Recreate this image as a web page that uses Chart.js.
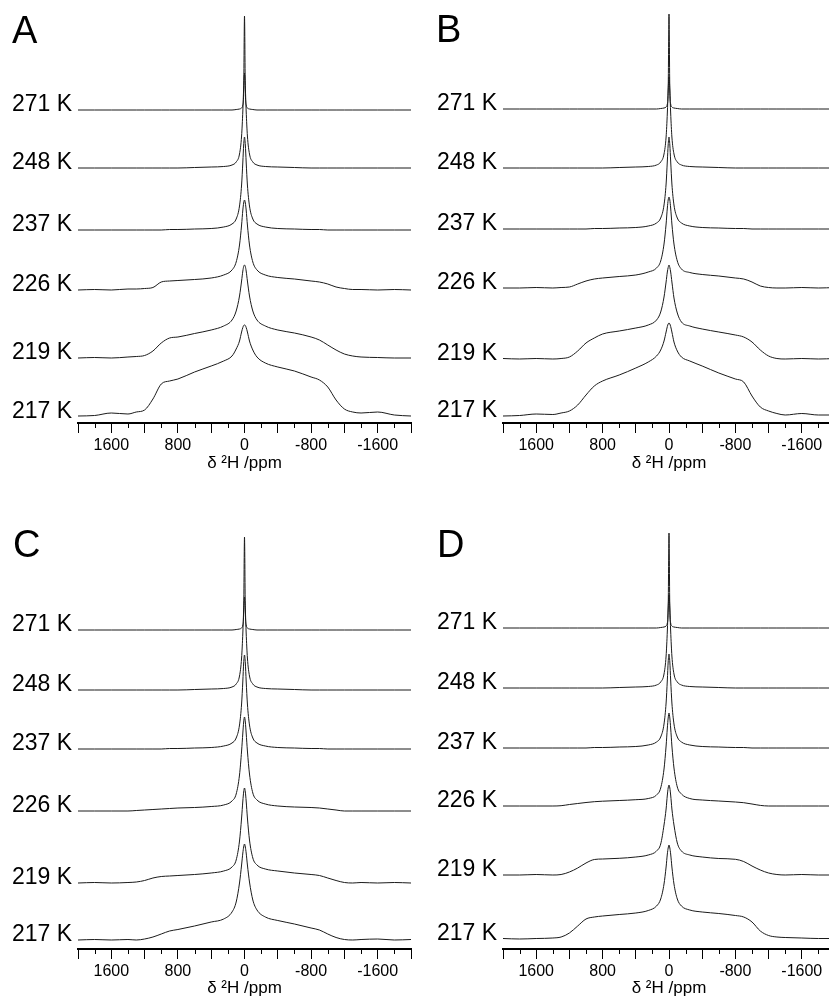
<!DOCTYPE html>
<html>
<head>
<meta charset="utf-8">
<script src="https://cdn.jsdelivr.net/npm/chart.js@4.4.0/dist/chart.umd.min.js"></script>
<style>
html, body { margin: 0; padding: 0; background: #fff; overflow: hidden; }
#wrap { position: relative; width: 829px; height: 1000px; overflow: hidden; }
#wrap canvas { position: absolute; }
</style>
</head>
<body>
<div id="wrap"></div>
<script>
var temps = [271, 248, 237, 226, 219, 217];
var ppm = [2000, 1800, 1600, 1400, 1300, 1200, 1100, 1000, 900, 800, 600, 400, 250, 150, 100, 60, 35, 20, 10, 0,
           -10, -20, -35, -60, -100, -150, -250, -400, -600, -800, -900, -1000, -1100, -1200, -1300, -1400, -1600, -1800, -2000];
var tickLabels = [1600, 800, 0, -800, -1600];
var letters = ['A', 'B', 'C', 'D'];
var axisTitle = 'δ ²H /ppm';

//Panel A spectra (intensity above each baseline).
var a271 = [0,0,0,0,0,0,0,0,0,0,0,0,0,0, 0.5,1,2,5,18,94,18,5,2,1,0.5, 0,0,0,0,0,0,0,0,0,0,0,0,0,0];
var a248 = [0,0,0,0,0,0,0,0,0,0, 0.5,1,1.5,3,6,14,32,57,80,95,80,57,32,14,6,3,1.5,1,0.5, 0,0,0,0,0,0,0,0,0,0];
var a237 = [0,0,0,0,0,0,0,0, 0.5,0.5,1,1.5,3,6,11,24,45,68,85,93,85,68,45,24,11,6,3,1.5,1,0.5,0.5, 0,0,0,0,0,0,0,0];
var a226 = [0,0.5,0,1,1,1.5,2.5,8,9,9.5, 10.5,12,15,20,28,45,65,80,87,90, 87,80,65,45,28,20,15,12.5,11,9, 8,6,3,1.5,0.5,0.5,0,0.5,0];
var a219 = [0,0.5,0,1,1.5,2.5,7,15,20,21, 24.5,28,32,38,47,62,77,87,91.5,93, 91.5,87,77,62,47,38,32,28,25,21, 18,13,8,4,2,1,0.5,0,0];
var a217 = [1,1.5,4,3,5,7,18,33,36,38, 45,51,56,61,68,76,85,89.5,91.5,92, 91.5,89.5,85,76,67,60,54,50,46,40, 37,30,17,8,5,4,5,2,1];

//Panel B spectra.
var b271 = [0,0,0,0,0,0,0,0,0,0,0,0,0,0, 0.5,1,2,5,18,95,18,5,2,1,0.5, 0,0,0,0,0,0,0,0,0,0,0,0,0,0];
var b248 = [0,0,0,0,0,0,0,0,0,0, 0.5,1,1.5,3,6,14,31,55,78,91,78,55,31,14,6,3,1.5,1,0.5, 0,0,0,0,0,0,0,0,0,0];
var b237 = [0,0,0,0,0,0,0,0, 0.5,0.5,1,1.5,3,6,11,24,45,68,84,92,84,68,45,24,11,6,3,1.5,1,0.5,0.5, 0,0,0,0,0,0,0,0];
var b226 = [0,0,0.5,0,0.5,1,4,7,9,10, 11.5,13,16,20,27,44,64,80,88,91, 88,80,64,44,27,19,15.5,13.5,12,10, 9,6,2,0.5,0,0,0.5,0,0.5];
var b219 = [0.5,0,0.5,0,0.5,2,8,16,21,25, 28,31,34,39,47,62,77,87,91.5,94, 91.5,87,77,61,46,37,33,30,27,24, 22,17,9,3,0.5,0,0.5,0,0.5];
var b217 = [0,0.5,2,1.5,3,5,11,21,30,35, 41,48,54,60,66,75,84,89.5,92,93, 92,89.5,84,74,65,59,55,50,43,37, 34,20,9,5,2.5,1,2.5,1,1];

//Panel C spectra.
var c271 = [0,0,0,0,0,0,0,0,0,0,0,0,0,0, 0.5,1,2,5,18,93,18,5,2,1,0.5, 0,0,0,0,0,0,0,0,0,0,0,0,0,0];
var c248 = [0,0,0,0,0,0,0,0,0,0, 0.5,1,1.5,3,6,14,32,57,80,93,80,57,32,14,6,3,1.5,1,0.5, 0,0,0,0,0,0,0,0,0,0];
var c237 = [0,0,0,0,0,0,0,0, 0.5,0.5,1,1.5,3,6,11,24,45,68,86,94,86,68,45,24,11,6,3,1.5,1,0.5,0.5, 0,0,0,0,0,0,0,0];
var c226 = [0,0,0,0,0.5,1,1.5,2,2.5,3, 3.5,4.5,6,10,17,36,60,78,89,94, 89,78,60,37,18,11,7,5,4,3.5, 3,2,1,0,0,0,0,0,0];
var c219 = [0,0.5,0,0.5,1,2.5,5,6.5,7,7.5, 8.5,10,12,16,23,42,65,82,91,95, 91,82,65,43,25,18,14,12,10,8.5, 7.5,5,2.5,0.5,0,0.5,0,0.5,0];
var c217 = [0,0.5,0,0.5,0,1,3,6,9,10.5, 14,18,21,28,38,57,75,87,93,96, 93,87,75,58,40,30,23,19.5,16,12, 10,6,2.5,0.5,0,0.5,1,0,0.5];

//Panel D spectra.
var d271 = [0,0,0,0,0,0,0,0,0,0,0,0,0,0, 0.5,1,2,5,18,95,18,5,2,1,0.5, 0,0,0,0,0,0,0,0,0,0,0,0,0,0];
var d248 = [0,0,0,0,0,0,0,0,0,0, 0.5,1,1.5,3,6,14,32,57,80,93,80,57,32,14,6,3,1.5,1,0.5, 0,0,0,0,0,0,0,0,0,0];
var d237 = [0,0,0,0,0,0,0,0, 0.5,0.5,1,1.5,3,6,11,24,45,68,86,94,86,68,45,24,11,6,3,1.5,1,0.5,0.5, 0,0,0,0,0,0,0,0];
var d226 = [0,0,0,0,0.3,1.5,2.5,3.5,4.3,4.8, 5.5,6.3,7.5,11,18,37,60,78,88,93, 88,78,60,38,19,12,7.5,6,5,4, 3.3,2,0.6,0,0,0,0,0,0];
var d219 = [0,0,0.5,0,0.5,3,7,12,15.5,16, 16.7,18,20,24,31,50,66,80,87,90, 87,80,66,50,32,24,20,18,16.5,15.7, 13.5,9,5,2,0.5,0,0.5,0,0];
var d217 = [0.5,0,0.5,1,2,6,13,20,22,23, 24.5,26,28.5,33,40,55,72,85,91,94, 91,85,72,55,40,33,29,27,25.5,23.5, 22,17,8,3.5,2,1.5,1,0.5,0.5];

var spectra = [
	[a271, a248, a237, a226, a219, a217],
	[b271, b248, b237, b226, b219, b217],
	[c271, c248, c237, c226, c219, c217],
	[d271, d248, d237, d226, d219, d217]
];

//Layout of each panel (pixels): canvas box, plot area, vertical stacking offsets.
var panels = [
	{left: 0,   top: 0,   width: 414, height: 475, areaLeft: 78, areaRight: 411, axisY: 423, letterX: 12, letterY: 43, offsets: [313, 255, 193, 133, 65, 6]},
	{left: 420, top: 0,   width: 418, height: 475, areaLeft: 83, areaRight: 416, axisY: 423, letterX: 16, letterY: 42, offsets: [314, 255, 194, 135, 64, 7]},
	{left: 0,   top: 500, width: 414, height: 500, areaLeft: 78, areaRight: 411, axisY: 449, letterX: 13, letterY: 57, offsets: [319, 259, 200, 138, 66, 9]},
	{left: 420, top: 500, width: 418, height: 500, areaLeft: 83, areaRight: 416, axisY: 449, letterX: 17, letterY: 57, offsets: [321, 261, 201, 143, 74, 10]}
];

var fontFamily = '"Liberation Sans", Arial, sans-serif';

//Draws minor ticks, temperature labels and panel letter.
var stackLabels = {
	id: 'stackLabels',
	afterDraw: function(chart) {
		var p = chart.options.plugins.stackLabels;
		var ctx = chart.ctx;
		var xs = chart.scales.x;
		var ys = chart.scales.y;
		ctx.save();
		ctx.strokeStyle = '#000';
		ctx.lineWidth = 1;
		for (var v = -1800; v <= 1800; v += 400) {
			var px = Math.round(xs.getPixelForValue(v)) + 0.5;
			ctx.beginPath();
			ctx.moveTo(px, xs.top);
			ctx.lineTo(px, xs.top + 5);
			ctx.stroke();
		}
		ctx.fillStyle = '#000';
		ctx.font = '23px ' + fontFamily;
		ctx.textAlign = 'right';
		ctx.textBaseline = 'alphabetic';
		for (var i = 0; i < temps.length; ++i) {
			ctx.fillText(temps[i] + ' K', chart.chartArea.left - 6, ys.getPixelForValue(p.offsets[i]) + 1);
		}
		ctx.textAlign = 'left';
		ctx.font = '38px ' + fontFamily;
		ctx.fillText(p.letter, p.letterX, p.letterY);
		ctx.restore();
	}
};

//Create one chart per panel.
for (var k = 0; k < panels.length; ++k) {
	var pan = panels[k];
	var canvas = document.createElement('canvas');
	canvas.width = pan.width;
	canvas.height = pan.height;
	canvas.style.left = pan.left + 'px';
	canvas.style.top = pan.top + 'px';
	document.getElementById('wrap').appendChild(canvas);

	var datasets = [];
	for (var i = 0; i < temps.length; ++i) {
		var pts = [];
		for (var j = 0; j < ppm.length; ++j) {
			pts.push({x: ppm[j], y: pan.offsets[i] + spectra[k][i][j]});
		}
		datasets.push({
			label: temps[i] + ' K',
			data: pts,
			borderColor: '#1a1a1a',
			borderWidth: 1,
			pointRadius: 0,
			fill: false,
			cubicInterpolationMode: 'monotone'
		});
	}

	new Chart(canvas, {
		type: 'line',
		data: { datasets: datasets },
		plugins: [stackLabels],
		options: {
			responsive: false,
			animation: false,
			devicePixelRatio: 1,
			layout: { padding: { left: pan.areaLeft, right: pan.width - pan.areaRight, top: 0, bottom: 0 } },
			plugins: {
				legend: { display: false },
				tooltip: { enabled: false },
				stackLabels: { offsets: pan.offsets, letter: letters[k], letterX: pan.letterX, letterY: pan.letterY }
			},
			scales: {
				x: {
					type: 'linear',
					min: -2000,
					max: 2000,
					reverse: true,
					afterFit: (function(h) { return function(scale) { scale.height = h; }; })(pan.height - pan.axisY),
					border: { display: true, color: '#000', width: 2 },
					grid: { drawOnChartArea: false, drawTicks: true, tickLength: 10, tickColor: '#000', tickWidth: 1 },
					ticks: {
						stepSize: 400,
						autoSkip: false,
						maxRotation: 0,
						padding: 3,
						color: '#000',
						font: { family: fontFamily, size: 16 },
						callback: function(value) {
							var v = Math.round(value);
							return tickLabels.indexOf(v) >= 0 ? String(v) : '';
						}
					},
					title: {
						display: true,
						text: axisTitle,
						color: '#000',
						font: { family: fontFamily, size: 17 },
						padding: { top: 0, bottom: 1 }
					}
				},
				y: {
					display: false,
					min: 0,
					max: pan.axisY
				}
			}
		}
	});
}
</script>
</body>
</html>
